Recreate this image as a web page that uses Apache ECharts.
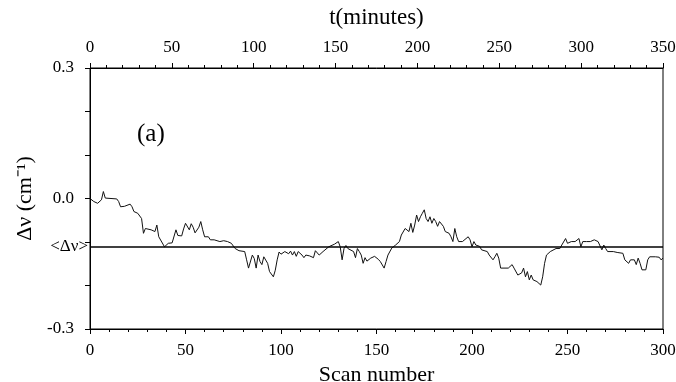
<!DOCTYPE html>
<html>
<head>
<meta charset="utf-8">
<script src="https://cdn.jsdelivr.net/npm/echarts@6/dist/echarts.min.js"></script>
<style>html,body{margin:0;padding:0;background:#fff}#c{width:676px;height:382px}</style>
</head>
<body>
<div id="c"></div>
<script>
const scans = [0,1,2,4,6,7,8,14,15,16,18,19,21,22,23,25,26,27,28,29,30,32,34,35,36,37,39,41,43,45,46,48,49,50,51,52,53,54,55,57,58,59,60,61,62,63,65,66,68,70,72,73,74,76,78,79,81,82,83,85,86,87,88,89,90,91,93,94,96,97,98,99,100,101,102,104,105,106,107,108,109,111,112,113,115,116,117,118,119,120,122,123,125,126,128,130,131,132,133,134,135,136,138,139,140,141,142,143,144,145,147,149,150,151,152,153,154,155,156,158,159,160,162,163,164,165,166,167,168,169,170,171,172,173,174,175,176,177,178,179,180,181,182,183,184,185,186,188,189,190,191,192,193,195,196,198,199,200,201,202,204,205,206,208,209,211,212,213,214,215,216,219,220,221,222,223,224,226,227,228,229,230,231,232,233,234,235,236,237,238,239,241,242,244,245,246,247,249,250,252,253,254,255,256,257,258,260,262,264,266,267,268,269,270,271,272,274,276,277,279,280,281,282,283,284,285,286,287,288,289,290,291,292,293,294,296,298,299,300];
const dnu = [0.000,-0.003,-0.007,-0.011,-0.003,0.016,0.001,-0.001,-0.007,-0.019,-0.018,-0.020,-0.013,-0.019,-0.030,-0.034,-0.030,-0.046,-0.080,-0.069,-0.072,-0.072,-0.076,-0.061,-0.088,-0.092,-0.111,-0.103,-0.102,-0.072,-0.085,-0.086,-0.070,-0.057,-0.056,-0.072,-0.058,-0.066,-0.079,-0.066,-0.053,-0.072,-0.088,-0.092,-0.088,-0.095,-0.095,-0.099,-0.099,-0.097,-0.099,-0.095,-0.103,-0.115,-0.120,-0.122,-0.122,-0.141,-0.160,-0.130,-0.138,-0.160,-0.130,-0.145,-0.152,-0.134,-0.149,-0.168,-0.180,-0.165,-0.141,-0.123,-0.128,-0.125,-0.122,-0.127,-0.121,-0.130,-0.122,-0.133,-0.122,-0.130,-0.136,-0.130,-0.132,-0.132,-0.136,-0.120,-0.122,-0.130,-0.122,-0.120,-0.111,-0.107,-0.105,-0.099,-0.111,-0.141,-0.115,-0.108,-0.115,-0.118,-0.122,-0.136,-0.115,-0.122,-0.130,-0.149,-0.136,-0.144,-0.137,-0.133,-0.136,-0.140,-0.145,-0.149,-0.160,-0.145,-0.130,-0.114,-0.111,-0.107,-0.099,-0.084,-0.080,-0.069,-0.065,-0.076,-0.057,-0.078,-0.061,-0.038,-0.053,-0.042,-0.034,-0.026,-0.046,-0.053,-0.042,-0.057,-0.046,-0.053,-0.064,-0.053,-0.057,-0.064,-0.076,-0.080,-0.088,-0.099,-0.069,-0.088,-0.099,-0.099,-0.099,-0.088,-0.095,-0.111,-0.099,-0.107,-0.110,-0.118,-0.118,-0.122,-0.130,-0.141,-0.134,-0.126,-0.137,-0.160,-0.160,-0.160,-0.158,-0.152,-0.160,-0.164,-0.176,-0.171,-0.160,-0.180,-0.168,-0.187,-0.176,-0.187,-0.184,-0.191,-0.191,-0.199,-0.180,-0.149,-0.130,-0.122,-0.118,-0.115,-0.111,-0.115,-0.107,-0.092,-0.103,-0.099,-0.095,-0.099,-0.099,-0.092,-0.111,-0.099,-0.099,-0.099,-0.095,-0.099,-0.103,-0.118,-0.107,-0.115,-0.122,-0.120,-0.122,-0.124,-0.122,-0.126,-0.141,-0.141,-0.149,-0.141,-0.145,-0.141,-0.152,-0.137,-0.149,-0.164,-0.168,-0.164,-0.141,-0.134,-0.132,-0.134,-0.135,-0.141,-0.137];
const meanValue = -0.11;
const yTickLabels = [0.3, 0.0, -0.3];
const scanRange = [0, 300];
const timeRange = [0, 350];

const font = 'Liberation Serif';
const chart = echarts.init(document.getElementById('c'));
const axisCommon = {
  axisLine: {show: true, onZero: false, lineStyle: {color: '#000', width: 1}},
  axisTick: {show: true, inside: false, length: 5, lineStyle: {color: '#000'}},
  minorTick: {show: true, splitNumber: 5, length: 3, lineStyle: {color: '#000'}},
  splitLine: {show: false},
  axisLabel: {color: '#000', fontFamily: font, fontSize: 17}
};
chart.setOption({
  animation: false,
  grid: {left: 90, right: 13, top: 68, bottom: 53, outerBoundsMode: 'none', containLabel: false,
         show: true, borderColor: '#000', borderWidth: 1},
  xAxis: [
    Object.assign({}, axisCommon, {
      type: 'value', position: 'bottom', min: scanRange[0], max: scanRange[1], interval: 50,
      name: 'Scan number', nameLocation: 'middle', nameGap: 30,
      nameTextStyle: {color: '#000', fontFamily: font, fontSize: 22},
      axisLabel: Object.assign({}, axisCommon.axisLabel, {margin: 13})
    }),
    Object.assign({}, axisCommon, {
      type: 'value', position: 'top', min: timeRange[0], max: timeRange[1], interval: 50,
      name: 't(minutes)', nameLocation: 'middle', nameGap: 39,
      nameTextStyle: {color: '#000', fontFamily: font, fontSize: 23},
      axisLabel: Object.assign({}, axisCommon.axisLabel, {margin: 12})
    })
  ],
  yAxis: [
    Object.assign({}, axisCommon, {
      type: 'value', min: -0.3, max: 0.3, interval: 0.1,
      minorTick: {show: false},
      name: 'Δν (cm⁻¹)', nameLocation: 'middle', nameGap: 43, nameRotate: 90,
      nameTextStyle: {color: '#000', fontFamily: font, fontSize: 22},
      axisLabel: Object.assign({}, axisCommon.axisLabel, {
        margin: 16,
        formatter: function (v) {
          for (const t of yTickLabels) { if (Math.abs(v - t) < 1e-6) return t.toFixed(1); }
          return '';
        }
      })
    })
  ],
  graphic: [{
    type: 'text', left: 137, top: 122,
    style: {text: '(a)', fill: '#000', font: '25px "Liberation Serif"'}
  }],
  series: [{
    type: 'line', xAxisIndex: 0, yAxisIndex: 0,
    data: scans.map((s, i) => [s, dnu[i]]),
    symbol: 'none',
    lineStyle: {color: '#111', width: 1},
    markLine: {
      silent: true, symbol: 'none',
      lineStyle: {color: '#000', width: 1.5, type: 'solid'},
      label: {show: true, position: 'start', formatter: '<Δν>', color: '#000', fontFamily: font, fontSize: 17, distance: 2},
      data: [{yAxis: meanValue}]
    }
  }]
});
</script>
</body>
</html>
